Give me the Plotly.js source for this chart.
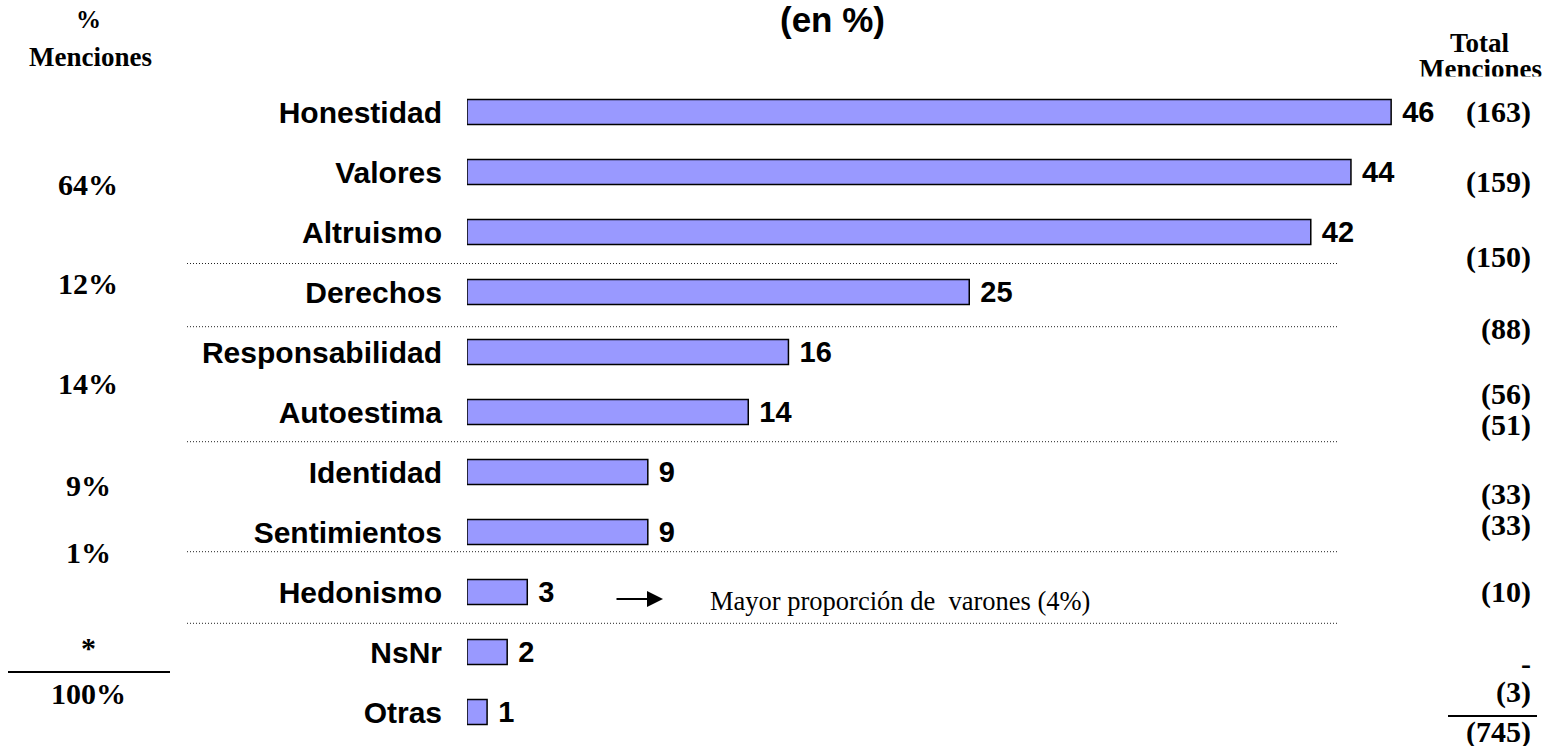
<!DOCTYPE html>
<html>
<head>
<meta charset="utf-8">
<script src="https://cdn.plot.ly/plotly-3.0.1.min.js"></script>
<style>html,body{margin:0;padding:0;background:#fff;}#chart{width:1543px;height:746px;}</style>
</head>
<body>
<div id="chart"></div>
<script>
// ---- data ----
const categories = ['Honestidad','Valores','Altruismo','Derechos','Responsabilidad','Autoestima','Identidad','Sentimientos','Hedonismo','NsNr','Otras'];
const values = [46, 44, 42, 25, 16, 14, 9, 9, 3, 2, 1];
const totalLabels = ['(163)','(159)','(150)','(88)','(56)','(51)','(33)','(33)','(10)','-','(3)','(745)'];
const groupPctLabels = ['64%','12%','14%','9%','1%','*','100%'];
const titleText = '(en %)';
const leftHeader = ['%','Menciones'];
const rightHeader = ['Total','Menciones'];
const noteText = 'Mayor proporción de\u00a0\u00a0varones (4%)';

// ---- layout helpers (pixel -> paper) ----
const L = 467, R = 1543, T = 82, B = 742;
const px = x => (x - L) / (R - L);
const py = y => (B - y) / (B - T);

const serif = 'Liberation Serif, Times New Roman, serif';
const sans = 'Liberation Sans, Arial, sans-serif';

const totalY = [112, 182, 257, 329, 394, 425, 494, 525, 592, 663, 692, 732];
const groupY = [184, 283, 384, 485, 552, 647, 693];
const sepY = [263.5, 326.7, 441.7, 551.7, 623.3];

const annotations = [];
annotations.push({xref:'paper', yref:'paper', x:px(832), y:py(20), text:titleText, showarrow:false,
  font:{family:sans, size:35, color:'#000', weight:'bold'}, xanchor:'center', yanchor:'middle'});
annotations.push({xref:'paper', yref:'paper', x:px(88), y:py(20), text:leftHeader[0], showarrow:false,
  font:{family:serif, size:25, color:'#000', weight:'bold'}, xanchor:'center', yanchor:'middle'});
annotations.push({xref:'paper', yref:'paper', x:px(90), y:py(57), text:leftHeader[1], showarrow:false,
  font:{family:serif, size:27, color:'#000', weight:'bold'}, xanchor:'center', yanchor:'middle'});
annotations.push({xref:'paper', yref:'paper', x:px(1480), y:py(43), text:rightHeader[0], showarrow:false,
  font:{family:serif, size:27, color:'#000', weight:'bold'}, xanchor:'center', yanchor:'middle'});
annotations.push({xref:'paper', yref:'paper', x:px(1480), y:py(69), text:rightHeader[1], showarrow:false,
  font:{family:serif, size:27, color:'#000', weight:'bold'}, xanchor:'center', yanchor:'middle'});
// white band that trims the lower part of the right header, as in the reference
annotations.push({xref:'paper', yref:'paper', x:px(1480), y:py(85), text:'\u00a0', showarrow:false,
  width:150, height:14, bgcolor:'#fff', xanchor:'center', yanchor:'middle', font:{size:8}});
totalLabels.forEach((t, i) => annotations.push({xref:'paper', yref:'paper', x:px(1533), y:py(totalY[i]), text:t,
  showarrow:false, font:{family:serif, size:30, color:'#000', weight:'bold'}, xanchor:'right', yanchor:'middle'}));
groupPctLabels.forEach((t, i) => annotations.push({xref:'paper', yref:'paper', x:px(88), y:py(groupY[i]), text:t,
  showarrow:false, font:{family:serif, size:30, color:'#000', weight:'bold'}, xanchor:'center', yanchor:'middle'}));
annotations.push({xref:'paper', yref:'paper', x:px(708), y:py(601), text:noteText, showarrow:false,
  font:{family:serif, size:26.5, color:'#000'}, xanchor:'left', yanchor:'middle'});
annotations.push({xref:'paper', yref:'paper', x:px(663), y:py(599), ax:-48, ay:0, text:'', showarrow:true,
  arrowhead:2, arrowsize:1.6, arrowwidth:2, arrowcolor:'#000'});

const shapes = sepY.map(y => ({type:'line', xref:'paper', yref:'paper', x0:px(187), x1:px(1337), y0:py(y), y1:py(y),
  line:{color:'#222', width:1, dash:'1px,2px'}}));
shapes.push({type:'line', xref:'paper', yref:'paper', x0:px(8), x1:px(170), y0:py(672), y1:py(672), line:{color:'#000', width:2}});
shapes.push({type:'line', xref:'paper', yref:'paper', x0:px(1448), x1:px(1537), y0:py(716), y1:py(716), line:{color:'#000', width:2}});

const trace = {
  type:'bar', orientation:'h', x: values, y: categories,
  width: 0.42,
  marker:{color:'#9999FF', line:{color:'#000', width:1.5}},
  text: values.map(v => '\u00a0' + v), textposition:'outside', constraintext:'none', cliponaxis:false,
  textfont:{family:sans, size:29, color:'#000', weight:'bold'},
  hoverinfo:'skip'
};

const layout = {
  width:1543, height:746,
  margin:{l:L, r:1543 - R, t:T, b:746 - B, pad:0},
  paper_bgcolor:'#fff', plot_bgcolor:'rgba(0,0,0,0)',
  showlegend:false,
  xaxis:{range:[0, (R - L) / 20.09], visible:false, fixedrange:true},
  yaxis:{type:'category', autorange:'reversed', showgrid:false, zeroline:false, showline:false, ticks:'',
    ticklabelstandoff:24, tickfont:{family:sans, size:30, color:'#000', weight:'bold'}, fixedrange:true},
  annotations, shapes
};

Plotly.newPlot('chart', [trace], layout, {displayModeBar:false, staticPlot:true});
</script>
</body>
</html>
